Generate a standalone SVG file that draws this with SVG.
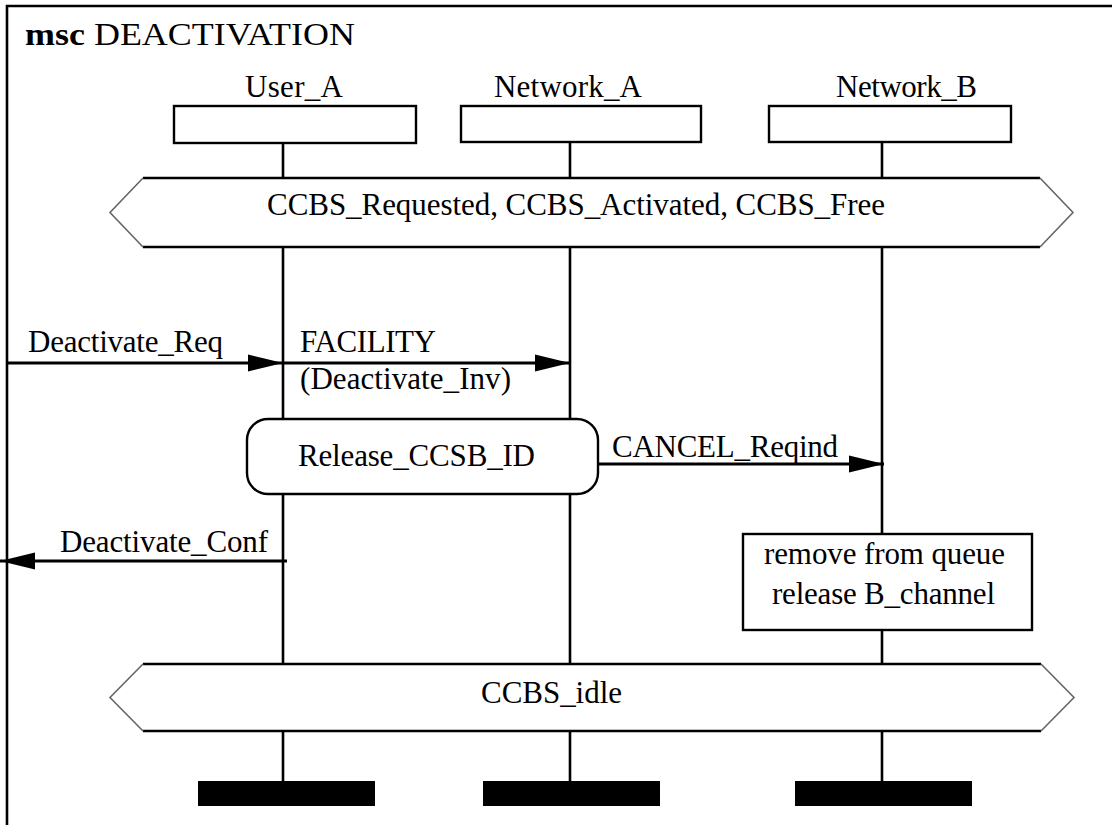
<svg xmlns="http://www.w3.org/2000/svg" width="1112" height="825" viewBox="0 0 1112 825">
<style>
text{font-family:"Liberation Serif","Times New Roman",serif;font-size:31px;fill:#000}
.ll{stroke:#000;stroke-width:2.6;fill:none}
.box{fill:#fff;stroke:#000;stroke-width:2.4}
.msg{stroke:#000;stroke-width:3;fill:none}
.hexfill{fill:#fff;stroke:none}
.hexh{stroke:#000;stroke-width:2.6}
.hexs{stroke:#666;stroke-width:1.6;fill:none}
.bar{fill:#000}
</style>
<defs>
<marker id="ah" markerUnits="userSpaceOnUse" markerWidth="36" markerHeight="18" refX="35" refY="8.5" orient="auto" overflow="visible">
<path d="M0,0 L35,8.5 L0,17 Z" fill="#000"/>
</marker>
</defs>
<rect width="1112" height="825" fill="#fff"/>
<g id="frame">
<path d="M7,825 V6 H1112" fill="none" stroke="#000" stroke-width="2.6"/>
<text x="25" y="45" font-size="34" textLength="330" lengthAdjust="spacingAndGlyphs"><tspan font-weight="bold">msc</tspan> DEACTIVATION</text>
</g>
<g id="lifelines">
<line class="ll" x1="283" y1="143" x2="283" y2="781"/>
<line class="ll" x1="570" y1="142" x2="570" y2="781"/>
<line class="ll" x1="882" y1="142" x2="882" y2="781"/>
</g>
<g id="User_A">
<text x="245" y="97" textLength="98">User_A</text>
<rect class="box" x="174" y="106" width="242" height="37"/>
<rect class="bar" x="198" y="781" width="177" height="25"/>
</g>
<g id="Network_A">
<text x="494" y="97" textLength="148">Network_A</text>
<rect class="box" x="461" y="106" width="240" height="36"/>
<rect class="bar" x="483" y="781" width="177" height="25"/>
</g>
<g id="Network_B">
<text x="836" y="97" textLength="141">Network_B</text>
<rect class="box" x="769" y="106" width="242" height="36"/>
<rect class="bar" x="795" y="781" width="177" height="25"/>
</g>
<g id="state1">
<polygon class="hexfill" points="110,212.5 143,178 1040,178 1073,212.5 1040,247 143,247"/>
<line class="hexh" x1="143" y1="178" x2="1040" y2="178"/>
<line class="hexh" x1="143" y1="247" x2="1040" y2="247"/>
<polyline class="hexs" points="143,178 110,212.5 143,247"/>
<polyline class="hexs" points="1040,178 1073,212.5 1040,247"/>
<text x="267" y="215" textLength="618">CCBS_Requested, CCBS_Activated, CCBS_Free</text>
</g>
<g id="Release_CCSB_ID">
<rect class="box" x="247" y="419" width="351" height="75" rx="21" ry="21"/>
<text x="298" y="466" textLength="237">Release_CCSB_ID</text>
</g>
<g id="remove_box">
<rect class="box" x="743" y="534" width="289" height="96"/>
<text x="764" y="564" textLength="241">remove from queue</text>
<text x="772" y="604" textLength="223">release B_channel</text>
</g>
<g id="state2">
<polygon class="hexfill" points="110,697.5 143,664 1041,664 1074,697.5 1041,731 143,731"/>
<line class="hexh" x1="143" y1="664" x2="1041" y2="664"/>
<line class="hexh" x1="143" y1="731" x2="1041" y2="731"/>
<polyline class="hexs" points="143,664 110,697.5 143,731"/>
<polyline class="hexs" points="1041,664 1074,697.5 1041,731"/>
<text x="481" y="703" textLength="141">CCBS_idle</text>
</g>
<g id="connectors">
<line class="msg" x1="7" y1="363" x2="283" y2="363" marker-end="url(#ah)"/>
<text x="28" y="352" textLength="195">Deactivate_Req</text>
<line class="msg" x1="283" y1="363" x2="570" y2="363" marker-end="url(#ah)"/>
<text x="300" y="352" textLength="136">FACILITY</text>
<text x="300" y="389" textLength="211">(Deactivate_Inv)</text>
<line class="msg" x1="598" y1="464" x2="884" y2="464" marker-end="url(#ah)"/>
<text x="612" y="457" textLength="226">CANCEL_Reqind</text>
<line class="msg" x1="287" y1="561" x2="0" y2="561" marker-end="url(#ah)"/>
<text x="60" y="552" textLength="208">Deactivate_Conf</text>
</g>
</svg>
